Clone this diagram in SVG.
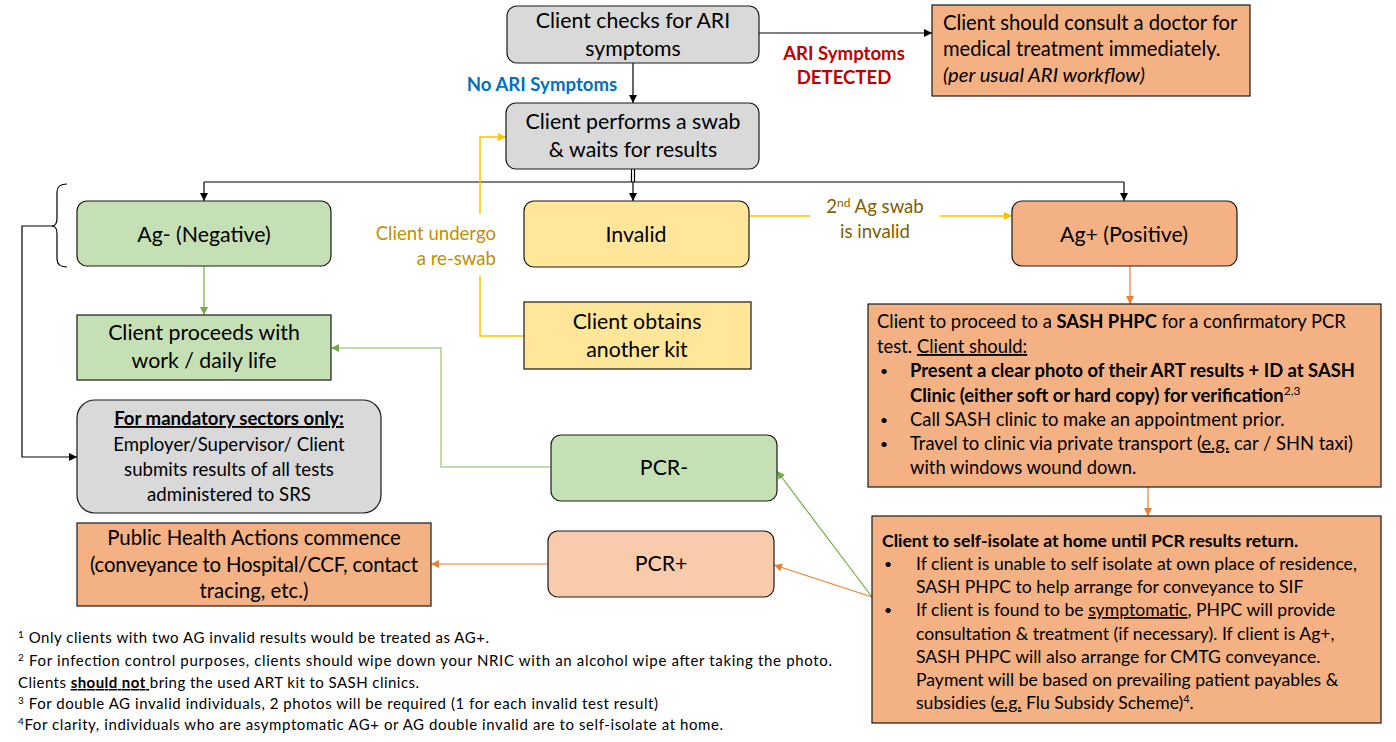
<svg xmlns="http://www.w3.org/2000/svg" width="1396" height="742" viewBox="0 0 1396 742">
<defs>
<style>
text{font-family:Lato,"Liberation Sans",sans-serif;fill:#000}
.t20{font-size:21.3px;text-anchor:middle}
.t17{font-size:18.6px}
.ts{font-size:18.4px}
.t16{font-size:17.6px}
.bl{font-size:14px}
.fn{font-size:15px}
.b{font-weight:bold}
.u{text-decoration:underline}
.gray{fill:#D9D9D9;stroke:#1a1a1a;stroke-width:1.2}
.green{fill:#C5E0B4;stroke:#1a1a1a;stroke-width:1.2}
.orange{fill:#F4B183;stroke:#1a1a1a;stroke-width:1.2}
.lorange{fill:#F8CBAD;stroke:#1a1a1a;stroke-width:1.2}
.yellow{fill:#FFE699;stroke:#1a1a1a;stroke-width:1.2}
.cb{fill:none;stroke:#000;stroke-width:1.2}
.cg{fill:none;stroke:#70AD47;stroke-width:1.2}
.cg2{fill:none;stroke:#A9D18E;stroke-width:1.5}
.co{fill:none;stroke:#ED7D31;stroke-width:1.2}
.cy{fill:none;stroke:#FFC000;stroke-width:1.5}
</style>
<marker id="ab" viewBox="0 0 10 10" refX="10" refY="5" markerWidth="8" markerHeight="8" orient="auto" markerUnits="userSpaceOnUse"><path d="M0,0 L10,5 L0,10 z" fill="#000"/></marker>
<marker id="ag" viewBox="0 0 10 10" refX="10" refY="5" markerWidth="8" markerHeight="8" orient="auto" markerUnits="userSpaceOnUse"><path d="M0,0 L10,5 L0,10 z" fill="#70AD47"/></marker>
<marker id="ao" viewBox="0 0 10 10" refX="10" refY="5" markerWidth="8" markerHeight="8" orient="auto" markerUnits="userSpaceOnUse"><path d="M0,0 L10,5 L0,10 z" fill="#ED7D31"/></marker>
<marker id="ay" viewBox="0 0 10 10" refX="10" refY="5" markerWidth="8" markerHeight="8" orient="auto" markerUnits="userSpaceOnUse"><path d="M0,0 L10,5 L0,10 z" fill="#FFC000"/></marker>
</defs>
<rect width="1396" height="742" fill="#fff"/>

<g id="connectors">
<path class="cb" d="M759,33 H932" marker-end="url(#ab)"/>
<path class="cb" d="M633,63 V103" marker-end="url(#ab)"/>
<path class="cb" d="M631.5,169 V182 M634.5,169 V182"/>
<path class="cb" d="M633,182 V201" marker-end="url(#ab)"/>
<path class="cb" d="M204,182 H1124"/>
<path class="cb" d="M204,182 V201" marker-end="url(#ab)"/>
<path class="cb" d="M1124,182 V201" marker-end="url(#ab)"/>
<path class="cb" d="M67,184 Q57,184 57,192 V218 Q57,226 52,226 Q57,226 57,234 V259 Q57,267 67,267"/>
<path class="cb" d="M53,226 H22 V457 H77" marker-end="url(#ab)"/>
<path class="cg" d="M204,266 V315" marker-end="url(#ag)"/>
<path class="cg2" d="M551,467 H441 V348 H331" marker-end="url(#ag)"/>
<path class="cy" d="M749,216 H810 M940,216 H1012" marker-end="url(#ay)"/>
<path class="cy" d="M524,336 H480 V276"/>
<path class="cy" d="M480,214 V137 H506" marker-end="url(#ay)"/>
<path class="co" d="M1130,266 V304" marker-end="url(#ao)"/>
<path class="co" d="M1148,487 V516" marker-end="url(#ao)"/>
<path class="cg" d="M872,597 L777,471" marker-end="url(#ag)"/>
<path class="co" d="M872,597 L774,565" marker-end="url(#ao)"/>
<path class="co" d="M548,564 H431" marker-end="url(#ao)"/>
</g>

<g id="label-detected"><text class="t17 b" style="fill:#C00000;text-anchor:middle" x="844" y="60">ARI Symptoms</text><text class="t17 b" style="fill:#C00000;text-anchor:middle" x="844" y="84">DETECTED</text></g>
<g id="label-no"><text class="t17 b" style="fill:#0070C0;text-anchor:middle" x="542" y="91">No ARI Symptoms</text></g>
<g id="label-2nd"><text class="t17" style="fill:#7F6000;text-anchor:middle" x="875" y="213">2<tspan font-size="12" dy="-6">nd</tspan><tspan dy="6"> Ag swab</tspan></text><text class="t17" style="fill:#7F6000;text-anchor:middle" x="875" y="238">is invalid</text></g>
<g id="label-reswab"><text class="t17" style="fill:#BF9000;text-anchor:end" x="496" y="240">Client undergo</text><text class="t17" style="fill:#BF9000;text-anchor:end" x="496" y="265">a re-swab</text></g>

<g id="n-check"><rect class="gray" x="507" y="6" width="252" height="57" rx="10"/><text class="t20" x="633" y="28">Client checks for ARI</text><text class="t20" x="633" y="56">symptoms</text></g>
<g id="n-doctor"><rect class="orange" x="932" y="5" width="318" height="91"/><text style="font-size:20.2px" x="943" y="30">Client should consult a doctor for</text><text style="font-size:20.2px" x="943" y="56">medical treatment immediately.</text><text style="font-size:20.2px;font-style:italic" x="943" y="82">(per usual ARI workflow)</text></g>
<g id="n-swab"><rect class="gray" x="506" y="103" width="253" height="66" rx="10"/><text class="t20" x="633" y="129">Client performs a swab</text><text class="t20" x="633" y="157">&amp; waits for results</text></g>
<g id="n-agneg"><rect class="green" x="77" y="201" width="254" height="65" rx="10"/><text class="t20" x="204" y="242">Ag- (Negative)</text></g>
<g id="n-invalid"><rect class="yellow" x="524" y="201" width="225" height="66" rx="10"/><text class="t20" x="636" y="242">Invalid</text></g>
<g id="n-agpos"><rect class="orange" x="1012" y="201" width="225" height="65" rx="10"/><text class="t20" x="1124" y="242">Ag+ (Positive)</text></g>
<g id="n-kit"><rect class="yellow" x="524" y="302" width="227" height="67"/><text class="t20" x="637" y="329">Client obtains</text><text class="t20" x="637" y="357">another kit</text></g>
<g id="n-proceed"><rect class="green" x="77" y="315" width="254" height="65"/><text class="t20" x="204" y="340">Client proceeds with</text><text class="t20" x="204" y="368">work / daily life</text></g>
<g id="n-mandatory"><rect class="gray" x="77" y="400" width="304" height="113" rx="18"/>
<text class="t17 b u" style="text-anchor:middle" x="229" y="425">For mandatory sectors only:</text>
<text class="t17" style="text-anchor:middle" x="229" y="451">Employer/Supervisor/ Client</text>
<text class="t17" style="text-anchor:middle" x="229" y="476">submits results of all tests</text>
<text class="t17" style="text-anchor:middle" x="229" y="501">administered to SRS</text></g>
<g id="n-public"><rect class="orange" x="77" y="523" width="354" height="83"/><text class="t20" style="font-size:20.4px" x="254" y="545">Public Health Actions commence</text><text class="t20" style="font-size:20.4px" x="254" y="572" textLength="328">(conveyance to Hospital/CCF, contact</text><text class="t20" style="font-size:20.4px" x="254" y="598">tracing, etc.)</text></g>
<g id="n-pcrneg"><rect class="green" x="551" y="435" width="226" height="66" rx="10"/><text class="t20" x="664" y="475">PCR-</text></g>
<g id="n-pcrpos"><rect class="lorange" x="548" y="531" width="226" height="66" rx="10"/><text class="t20" x="661" y="571">PCR+</text></g>
<g id="n-sash"><rect class="orange" x="868" y="304" width="513" height="183"/>
<text class="ts" x="877" y="328">Client to proceed to a <tspan class="b">SASH PHPC</tspan> for a confirmatory PCR</text>
<text class="ts" x="877" y="353">test. <tspan class="u">Client should:</tspan></text>
<text class="bl" x="880" y="376">•</text>
<text class="ts b" x="910" y="377">Present a clear photo of their ART results + ID at SASH</text>
<text class="ts b" x="910" y="402">Clinic (either soft or hard copy) for verification<tspan font-size="12" font-weight="normal" dy="-7">2,3</tspan></text>
<text class="bl" x="880" y="425">•</text>
<text class="ts" x="910" y="426">Call SASH clinic to make an appointment prior.</text>
<text class="bl" x="880" y="449">•</text>
<text class="ts" x="910" y="450">Travel to clinic via private transport (<tspan class="u">e.g.</tspan> car / SHN taxi)</text>
<text class="ts" x="910" y="474">with windows wound down.</text></g>
<g id="n-isolate"><rect class="orange" x="872" y="516" width="509" height="207"/>
<text class="t16 b" x="882" y="547">Client to self-isolate at home until PCR results return.</text>
<text class="bl" x="884" y="569">•</text>
<text class="t16" x="916" y="570">If client is unable to self isolate at own place of residence,</text>
<text class="t16" x="916" y="593">SASH PHPC to help arrange for conveyance to SIF</text>
<text class="bl" x="884" y="615">•</text>
<text class="t16" x="916" y="616">If client is found to be <tspan class="u">symptomatic</tspan>, PHPC will provide</text>
<text class="t16" x="916" y="640">consultation &amp; treatment (if necessary). If client is Ag+,</text>
<text class="t16" x="916" y="663">SASH PHPC will also arrange for CMTG conveyance.</text>
<text class="t16" x="916" y="686">Payment will be based on prevailing patient payables &amp;</text>
<text class="t16" x="916" y="709">subsidies (<tspan class="u">e.g.</tspan> Flu Subsidy Scheme)<tspan font-size="11" dy="-6">4</tspan><tspan dy="6">.</tspan></text></g>

<g id="footnotes">
<text class="fn" x="18" y="643" textLength="471"><tspan font-size="10" dy="-5">1</tspan><tspan dy="5"> Only clients with two AG invalid results would be treated as AG+.</tspan></text>
<text class="fn" x="18" y="666" textLength="814"><tspan font-size="10" dy="-5">2</tspan><tspan dy="5"> For infection control purposes, clients should wipe down your NRIC with an alcohol wipe after taking the photo.</tspan></text>
<text class="fn" x="18" y="688" textLength="401">Clients <tspan class="b u">should not </tspan>bring the used ART kit to SASH clinics.</text>
<text class="fn" x="18" y="709" textLength="640"><tspan font-size="10" dy="-5">3</tspan><tspan dy="5"> For double AG invalid individuals, 2 photos will be required (1 for each invalid test result)</tspan></text>
<text class="fn" x="18" y="730" textLength="705"><tspan font-size="10" dy="-5">4</tspan><tspan dy="5">For clarity, individuals who are asymptomatic AG+ or AG double invalid are to self-isolate at home.</tspan></text>
</g>
</svg>
